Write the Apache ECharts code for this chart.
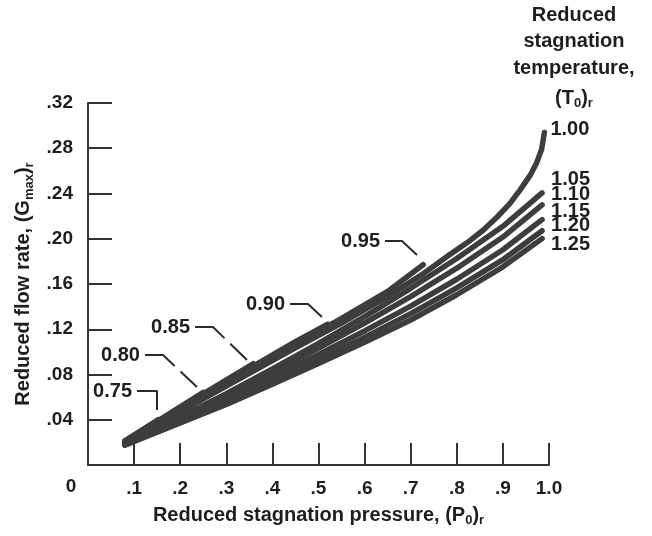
<!DOCTYPE html>
<html>
<head>
<meta charset="utf-8">
<script src="https://cdn.jsdelivr.net/npm/echarts@6/dist/echarts.min.js"></script>
<style>html,body{margin:0;padding:0;background:#fff}#c{width:652px;height:536px}</style>
</head>
<body>
<div id="c"></div>
<script>
// ---- Data (reduced stagnation pressure P, reduced flow rate G) ----
const xTickLabels = ['', '.1', '.2', '.3', '.4', '.5', '.6', '.7', '.8', '.9', '1.0'];
const yTickLabels = ['', '.04', '.08', '.12', '.16', '.20', '.24', '.28', '.32'];

const tempLabels = ['0.75', '0.80', '0.85', '0.90', '0.95', '1.00', '1.05', '1.10', '1.15', '1.20', '1.25'];

const c075 = [[0.08,0.0213],[0.152,0.040]];
const c080 = [[0.08,0.021],[0.15,0.0385],[0.25,0.0642]];
const c085 = [[0.08,0.0205],[0.15,0.038],[0.25,0.063],[0.358,0.0895]];
const c090 = [[0.08,0.020],[0.15,0.037],[0.25,0.0615],[0.35,0.0855],[0.45,0.109],[0.52,0.1245]];
const c095 = [[0.08,0.0195],[0.15,0.036],[0.25,0.060],[0.35,0.0835],[0.45,0.1065],[0.55,0.1295],[0.65,0.1535],[0.727,0.177]];
const c100 = [[0.08,0.019],[0.15,0.0352],[0.25,0.0585],[0.35,0.081],[0.45,0.1035],[0.55,0.1255],[0.65,0.149],[0.727,0.169],[0.785,0.186],[0.829,0.1985],[0.857,0.2075],[0.887,0.219],[0.915,0.231],[0.937,0.243],[0.959,0.256],[0.973,0.267],[0.984,0.279],[0.99,0.294]];
const c105 = [[0.08,0.0185],[0.2,0.0425],[0.3,0.063],[0.4,0.0850],[0.5,0.1075],[0.6,0.1312],[0.7,0.1562],[0.8,0.1825],[0.9,0.211],[0.985,0.2405]];
const c110 = [[0.08,0.0181],[0.2,0.0410],[0.3,0.0605],[0.4,0.0817],[0.5,0.1033],[0.6,0.1255],[0.7,0.1488],[0.8,0.1740],[0.9,0.2015],[0.985,0.2299]];
const c115 = [[0.08,0.0179],[0.2,0.0395],[0.3,0.0576],[0.4,0.0776],[0.5,0.0978],[0.6,0.1185],[0.7,0.1405],[0.8,0.1642],[0.9,0.1903],[0.985,0.2169]];
const c120 = [[0.08,0.0177],[0.2,0.0383],[0.3,0.0553],[0.4,0.0742],[0.5,0.0934],[0.6,0.1128],[0.7,0.1338],[0.8,0.1565],[0.9,0.1815],[0.985,0.2071]];
const c125 = [[0.08,0.0174],[0.2,0.0371],[0.3,0.0535],[0.4,0.0715],[0.5,0.0898],[0.6,0.1085],[0.7,0.1282],[0.8,0.1505],[0.9,0.1752],[0.985,0.2001]];

// leader lines for subcritical temperature labels (text end, bend, tip)
const lead075 = [[0.1063,0.0654],[0.1497,0.0654],[0.1497,0.0486]];
const lead080 = [[0.1236,0.0972],[0.1627,0.0972],[0.2364,0.0690]];
const lead085 = [[0.2321,0.1220],[0.2711,0.1220],[0.3449,0.0928]];
const lead090 = [[0.4382,0.1423],[0.4772,0.1423],[0.5076,0.1308]];
const lead095 = [[0.6443,0.1980],[0.6811,0.1980],[0.7137,0.1856]];

// ---- Chart ----
const FONT = '"Liberation Sans", Arial, Helvetica, sans-serif';
const TXT = '#1e1e1e';
const LINE = '#3d3d3d';
const FS = 20;
const rich = {
  sub: { fontSize: 13, fontWeight: 'bold', fontFamily: FONT, color: TXT, lineHeight: 14, verticalAlign: 'bottom' }
};

const curves = [c075, c080, c085, c090, c095, c100, c105, c110, c115, c120, c125];
const leaders = [lead075, lead080, lead085, lead090, lead095];
const endOffsets = { '1.00': [4, -3], '1.05': [7, -13], '1.10': [7, -10], '1.15': [7, -8], '1.20': [7, -5], '1.25': [7, 6] };

const series = [];
curves.forEach((d, i) => {
  const name = tempLabels[i];
  const s = {
    type: 'line', name: name, data: d, showSymbol: false, smooth: false,
    lineStyle: { color: LINE, width: 5.5, cap: 'round', join: 'round' },
    silent: true, z: 3
  };
  if (endOffsets[name]) {
    s.endLabel = {
      show: true, formatter: name, offset: endOffsets[name], distance: 2,
      fontSize: FS, fontWeight: 'bold', fontFamily: FONT, color: TXT
    };
  }
  series.push(s);
});
leaders.forEach((d, i) => {
  const dashed = (i === 1 || i === 2);
  series.push({
    type: 'line', data: d.map((p, k) => k === 0 ? {
      value: p,
      label: { show: true, position: 'left', distance: 5, formatter: tempLabels[i],
        fontSize: FS, fontWeight: 'bold', fontFamily: FONT, color: TXT }
    } : { value: p }),
    showSymbol: true, symbolSize: 0, symbol: 'circle',
    lineStyle: { color: '#2a2a2a', width: 2, type: dashed ? [34, 8] : 'solid' },
    silent: true, z: 4
  });
});

const chart = echarts.init(document.getElementById('c'), null, { renderer: 'canvas' });
chart.setOption({
  animation: false,
  backgroundColor: '#ffffff',
  grid: { left: 88, right: 103, top: 103, bottom: 71 },
  xAxis: {
    type: 'value', min: 0, max: 1, interval: 0.1,
    axisLine: { lineStyle: { color: '#333', width: 2 } },
    axisTick: { inside: true, length: 22, lineStyle: { color: '#333', width: 2 } },
    splitLine: { show: false },
    axisLabel: {
      formatter: v => xTickLabels[Math.round(v * 10)],
      margin: 14, fontSize: 19, fontWeight: 'bold', fontFamily: FONT, color: TXT
    },
    name: 'Reduced stagnation pressure, (P{sub|0})' + '{sub|r}',
    nameLocation: 'middle', nameGap: 38,
    nameTextStyle: { fontSize: FS, fontWeight: 'bold', fontFamily: FONT, color: TXT, lineHeight: 24, rich: rich }
  },
  yAxis: {
    type: 'value', min: 0, max: 0.32, interval: 0.04,
    axisLine: { lineStyle: { color: '#333', width: 2 } },
    axisTick: { inside: true, length: 24, lineStyle: { color: '#333', width: 2 } },
    splitLine: { show: false },
    axisLabel: {
      formatter: v => yTickLabels[Math.round(v / 0.04)],
      margin: 15, fontSize: 19, fontWeight: 'bold', fontFamily: FONT, color: TXT
    },
    name: 'Reduced flow rate, (G{sub|max})' + '{sub|r}',
    nameLocation: 'middle', nameGap: 52, nameRotate: 90,
    nameTextStyle: { fontSize: FS, fontWeight: 'bold', fontFamily: FONT, color: TXT, lineHeight: 24, rich: rich }
  },
  graphic: [
    { type: 'text', x: 71, y: 487, style: { text: '0', fontSize: 19, fontWeight: 'bold', fontFamily: FONT, fill: TXT, align: 'center', verticalAlign: 'middle' } },
    { type: 'text', x: 574, y: 15, style: { text: 'Reduced', fontSize: FS, fontWeight: 'bold', fontFamily: FONT, fill: TXT, align: 'center', verticalAlign: 'middle' } },
    { type: 'text', x: 574, y: 41, style: { text: 'stagnation', fontSize: FS, fontWeight: 'bold', fontFamily: FONT, fill: TXT, align: 'center', verticalAlign: 'middle' } },
    { type: 'text', x: 574, y: 68, style: { text: 'temperature,', fontSize: FS, fontWeight: 'bold', fontFamily: FONT, fill: TXT, align: 'center', verticalAlign: 'middle' } },
    { type: 'text', x: 574, y: 98, style: { text: '(T{sub|0}){sub|r}', fontSize: FS, fontWeight: 'bold', fontFamily: FONT, fill: TXT, align: 'center', verticalAlign: 'middle', lineHeight: 24, rich: rich } }
  ],
  series: series
});
</script>
</body>
</html>
